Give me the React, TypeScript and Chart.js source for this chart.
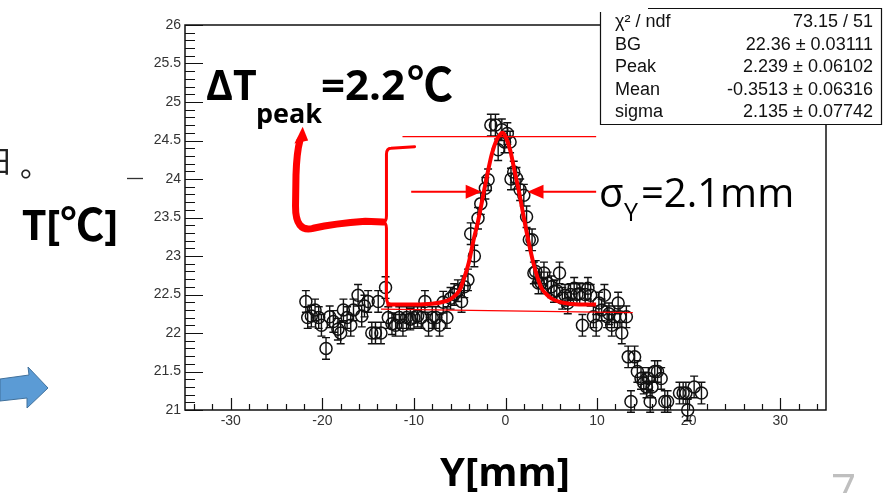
import React, { useEffect, useRef } from "react";
import { Chart, registerables } from "chart.js";
Chart.register(...registerables);

// Measured temperature profile (position in mm, temperature in °C)
const positionMm = [
  -21.8, -21.6, -21.2, -20.8, -20.4, -20.1, -19.6, -19.2, -18.8, -18.3, -18.0, -17.7, -17.3, -16.9, -16.6, -16.1,
  -15.7, -15.4, -15.0, -14.6, -14.2, -13.9, -13.6, -13.1, -12.8, -12.4, -12.0, -11.6, -11.2, -10.8, -10.4, -10.0,
  -9.6, -9.2, -8.8, -8.4, -8.0, -7.6, -7.2, -6.8, -6.4, -6.0, -5.6, -5.2, -4.8, -4.5, -4.1, -3.8,
  -3.4, -3.0, -2.7, -2.2, -1.9, -1.6, -1.1, -0.8, -0.4, -0.1, 0.2, 0.5, 0.6, 0.9, 1.2, 1.6,
  2.0, 2.3, 2.6, 2.9, 3.1, 3.3, 3.6, 3.9, 4.2, 4.6, 5.0, 5.3, 5.6, 5.9, 6.2, 6.5,
  6.8, 7.1, 7.5, 7.8, 8.1, 8.4, 8.7, 9.0, 9.3, 9.6, 9.9, 10.2, 10.5, 10.8, 11.1, 11.3,
  11.6, 11.9, 12.3, 12.5, 12.7, 13.2, 13.4, 13.7, 14.1, 14.4, 14.8, 15.1, 15.4, 15.6, 15.8, 16.0,
  16.3, 16.6, 17.0, 17.4, 17.7, 19.0, 19.4, 19.7, 19.9, 20.6, 21.4,
];
const temperatureC = [
  22.41, 22.2, 22.22, 22.3, 22.2, 22.1, 21.8, 22.21, 22.15, 22.05, 22.0, 22.3, 22.2, 22.1, 22.3, 22.49,
  22.22, 22.35, 22.41, 22.0, 22.0, 22.41, 22.0, 22.59, 22.2, 22.12, 22.1, 22.2, 22.1, 22.2, 22.18, 22.2,
  22.22, 22.2, 22.41, 22.1, 22.2, 22.2, 22.1, 22.4, 22.2, 22.45, 22.5, 22.55, 22.41, 22.6, 22.69, 23.29,
  23.0, 23.49, 23.68, 23.88, 23.99, 24.7, 24.7, 24.38, 24.64, 24.48, 24.59, 24.48, 24.0, 24.09, 24.01, 23.86,
  23.79, 23.51, 23.21, 23.21, 22.78, 22.8, 22.65, 22.65, 22.78, 22.65, 22.6, 22.54, 22.55, 22.78, 22.45, 22.49,
  22.39, 22.5, 22.58, 22.5, 22.51, 22.1, 22.5, 22.58, 22.49, 22.21, 22.1, 22.39, 22.3, 22.49, 22.21, 22.25,
  22.1, 22.21, 22.39, 22.21, 22.0, 22.21, 21.69, 21.11, 21.69, 21.5, 21.41, 21.35, 21.3, 21.41, 21.11, 21.3,
  21.5, 21.5, 21.41, 21.11, 21.11, 21.22, 21.22, 21.22, 21.0, 21.3, 21.22,
];
const errorC = 0.14;

// Fitted curve (BG + Gaussian) as drawn on the picture
const fitPositionMm = [-13, -10, -8, -7, -6, -5, -4.5, -4, -3.5, -3, -2.5, -2, -1.5, -1, -0.5, -0.3, 0, 0.5, 1, 1.5, 2, 2.5, 3, 3.5, 4, 4.5, 5, 6, 7, 8, 9.9];
const fitTemperatureC = [22.37, 22.37, 22.38, 22.4, 22.44, 22.56, 22.72, 22.92, 23.2, 23.45, 23.75, 24.05, 24.32, 24.5, 24.59, 24.6, 24.55, 24.38, 24.1, 23.82, 23.5, 23.2, 22.93, 22.72, 22.57, 22.5, 22.45, 22.4, 22.38, 22.37, 22.37];

const xTickValues = [-30, -20, -10, 0, 10, 20, 30];
const xTickLabels = ["-30", "-20", "-10", "0", "10", "20", "30"];
const yTickValues = [21, 21.5, 22, 22.5, 23, 23.5, 24, 24.5, 25, 25.5, 26];
const yTickLabels = ["21", "21.5", "22", "22.5", "23", "23.5", "24", "24.5", "25", "25.5", "26"];

const statNames = ["χ² / ndf", "BG", "Peak", "Mean", "sigma"];
const statValues = ["73.15 / 51", "22.36 ± 0.03111", "2.239 ± 0.06102", "-0.3513 ± 0.06316", "2.135 ± 0.07742"];

// Annotation guide lines (data coordinates)
const peakLineX = [-11.25, 9.9];
const peakLineT = [24.55, 24.55];
const bgLineX = [-13.6, 13.9];
const bgLineT = [22.31, 22.265];
const sigmaArrowT = 23.835;
const sigmaLeftX = [-10.3, -2.6];
const sigmaRightX = [9.9, 2.4];

const RED = "#ff0000";

function tri(ctx: CanvasRenderingContext2D, tipX: number, tipY: number, dir: number, len: number, half: number) {
  ctx.beginPath();
  ctx.moveTo(tipX, tipY);
  ctx.lineTo(tipX - dir * len, tipY - half);
  ctx.lineTo(tipX - dir * len, tipY + half);
  ctx.closePath();
  ctx.fill();
}

const slidePlugin = {
  id: "slidePlugin",
  beforeDatasetsDraw(chart: any) {
    const { ctx, chartArea: a } = chart;
    const xs = chart.scales.x;
    const ys = chart.scales.y;
    ctx.save();
    ctx.strokeStyle = "#111";
    ctx.lineWidth = 1.5;
    ctx.strokeRect(a.left, a.top, a.right - a.left, a.bottom - a.top);
    ctx.lineWidth = 1.2;
    ctx.beginPath();
    for (let k = 0; k <= 50; k++) {
      const Y = Math.round(ys.getPixelForValue(ys.min + k * 0.1)) + 0.5;
      const len = k % 5 === 0 ? 18 : 10;
      ctx.moveTo(a.left, Y);
      ctx.lineTo(a.left + len, Y);
    }
    for (let k = 0; k <= 35; k++) {
      const v = -34 + k * 2;
      if (v > 35) break;
      const X = Math.round(xs.getPixelForValue(v)) + 0.5;
      const len = v % 10 === 0 ? 12 : 6;
      ctx.moveTo(X, a.bottom);
      ctx.lineTo(X, a.bottom - len);
    }
    ctx.stroke();
    // error bars
    ctx.strokeStyle = "#111";
    ctx.lineWidth = 1.4;
    ctx.beginPath();
    positionMm.forEach((p, i) => {
      const X = xs.getPixelForValue(p);
      const t1 = ys.getPixelForValue(temperatureC[i] + errorC);
      const t2 = ys.getPixelForValue(temperatureC[i] - errorC);
      ctx.moveTo(X, t1);
      ctx.lineTo(X, t2);
      ctx.moveTo(X - 4, t1);
      ctx.lineTo(X + 4, t1);
      ctx.moveTo(X - 4, t2);
      ctx.lineTo(X + 4, t2);
    });
    ctx.stroke();
    ctx.restore();
  },
  afterDatasetsDraw(chart: any) {
    const { ctx } = chart;
    const xs = chart.scales.x;
    const ys = chart.scales.y;
    const X = (v: number) => xs.getPixelForValue(v);
    const Y = (v: number) => ys.getPixelForValue(v);
    ctx.save();
    ctx.strokeStyle = RED;
    ctx.fillStyle = RED;
    // thin guide lines
    ctx.lineWidth = 1.3;
    ctx.beginPath();
    ctx.moveTo(X(peakLineX[0]), Y(peakLineT[0]));
    ctx.lineTo(X(peakLineX[1]), Y(peakLineT[1]));
    ctx.moveTo(X(bgLineX[0]), Y(bgLineT[0]));
    ctx.lineTo(X(bgLineX[1]), Y(bgLineT[1]));
    ctx.stroke();
    // sigma arrows
    ctx.lineWidth = 2;
    const sy = Y(sigmaArrowT);
    ctx.beginPath();
    ctx.moveTo(X(sigmaLeftX[0]), sy);
    ctx.lineTo(X(sigmaLeftX[1]) - 14, sy);
    ctx.moveTo(X(sigmaRightX[0]), sy);
    ctx.lineTo(X(sigmaRightX[1]) + 14, sy);
    ctx.stroke();
    tri(ctx, X(sigmaLeftX[1]), sy, 1, 16, 7);
    tri(ctx, X(sigmaRightX[1]), sy, -1, 16, 7);
    // bracket
    ctx.lineWidth = 3;
    ctx.lineJoin = "round";
    ctx.lineCap = "round";
    ctx.beginPath();
    ctx.moveTo(X(-9.93), Y(24.42));
    ctx.lineTo(X(-12.5), Y(24.40));
    ctx.quadraticCurveTo(X(-13.0), Y(24.40), X(-13.0), Y(24.32));
    ctx.lineTo(X(-13.0), Y(23.52));
    ctx.quadraticCurveTo(X(-13.0), Y(23.45), X(-13.35), Y(23.44));
    ctx.quadraticCurveTo(X(-13.0), Y(23.43), X(-13.0), Y(23.36));
    ctx.lineTo(X(-13.0), Y(22.47));
    ctx.quadraticCurveTo(X(-13.0), Y(22.37), X(-12.5), Y(22.37));
    ctx.stroke();
    // big curved arrow
    ctx.lineWidth = 7;
    ctx.beginPath();
    ctx.moveTo(X(-13.4), Y(23.44));
    ctx.lineTo(X(-15.3), Y(23.45));
    ctx.quadraticCurveTo(X(-18.7), Y(23.42), X(-21.0), Y(23.36));
    ctx.quadraticCurveTo(X(-22.95), Y(23.3), X(-22.93), Y(23.65));
    ctx.lineTo(X(-22.88), Y(24.05));
    ctx.quadraticCurveTo(X(-22.8), Y(24.35), X(-22.45), Y(24.5));
    ctx.stroke();
    ctx.beginPath();
    ctx.moveTo(X(-22.15), Y(24.68));
    ctx.lineTo(X(-23.05), Y(24.46));
    ctx.lineTo(X(-21.55), Y(24.5));
    ctx.closePath();
    ctx.fill();
    ctx.restore();
  },
  afterDraw(chart: any) {
    const { ctx } = chart;
    ctx.save();
    // stats box
    ctx.fillStyle = "#fff";
    ctx.fillRect(600, 8, 281, 116);
    ctx.strokeStyle = "#111";
    ctx.lineWidth = 1.2;
    ctx.beginPath();
    ctx.moveTo(600.5, 12);
    ctx.lineTo(600.5, 124.5);
    ctx.lineTo(881.5, 124.5);
    ctx.lineTo(881.5, 8.5);
    ctx.lineTo(648, 8.5);
    ctx.stroke();
    ctx.fillStyle = "#111";
    ctx.font = "18px 'Liberation Sans', Arial, sans-serif";
    ctx.textBaseline = "alphabetic";
    statNames.forEach((n, i) => {
      const by = 27 + i * 22.6;
      ctx.textAlign = "left";
      ctx.fillText(n, 615, by);
      ctx.textAlign = "right";
      ctx.fillText(statValues[i], 873, by);
    });
    // slide texts
    ctx.fillStyle = "#000";
    ctx.textAlign = "left";
    ctx.font = "bold 41px 'Open Sans', 'Noto Sans CJK JP', sans-serif";
    ctx.fillText("ΔT", 206, 100);
    ctx.font = "bold 42px 'Open Sans', 'Noto Sans CJK JP', sans-serif";
    ctx.fillText("=2.2", 321, 100);
    ctx.font = "bold 46px 'Noto Sans CJK JP', sans-serif";
    ctx.fillText("℃", 407, 101);
    ctx.font = "bold 27px 'Open Sans', sans-serif";
    ctx.fillText("peak", 256, 123);
    ctx.font = "40px 'Open Sans', sans-serif";
    ctx.fillText("σ", 599, 207);
    ctx.font = "25px 'Open Sans', sans-serif";
    ctx.fillText("Y", 624, 221);
    ctx.font = "40px 'Open Sans', sans-serif";
    ctx.fillText("=2.1mm", 641, 207);
    ctx.font = "bold 42px 'Open Sans', sans-serif";
    ctx.fillText("T[", 22, 240);
    const tW = ctx.measureText("T[").width;
    ctx.font = "bold 44px 'Noto Sans CJK JP', sans-serif";
    ctx.fillText("℃", 22 + tW, 241);
    const cW = ctx.measureText("℃").width;
    ctx.font = "bold 42px 'Open Sans', sans-serif";
    ctx.fillText("]", 22 + tW + cW, 240);
    ctx.font = "bold 40px 'Open Sans', sans-serif";
    ctx.fillText("Y[mm]", 440, 486);
    ctx.fillStyle = "#bfbfbf";
    ctx.font = "44px 'Open Sans', sans-serif";
    ctx.fillText("7", 831, 505);
    // cut-off text at the left edge
    ctx.fillStyle = "#222";
    ctx.font = "30px 'Noto Sans CJK JP', sans-serif";
    ctx.fillText("日", -17, 172);
    ctx.fillText("。", 20, 176);
    ctx.strokeStyle = "#333";
    ctx.lineWidth = 1.3;
    ctx.beginPath();
    ctx.moveTo(127, 178.5);
    ctx.lineTo(143, 178.5);
    ctx.stroke();
    // blue block arrow
    ctx.fillStyle = "#5b9bd5";
    ctx.strokeStyle = "#41719c";
    ctx.lineWidth = 1;
    ctx.beginPath();
    ctx.moveTo(0, 379);
    ctx.lineTo(29, 375);
    ctx.lineTo(28, 367);
    ctx.lineTo(48, 388);
    ctx.lineTo(27, 408);
    ctx.lineTo(27, 398);
    ctx.lineTo(0, 401);
    ctx.closePath();
    ctx.fill();
    ctx.stroke();
    ctx.restore();
  },
};

export default function App() {
  const ref = useRef<HTMLCanvasElement>(null);
  useEffect(() => {
    const canvas = ref.current!;
    const tickFont = { family: "'Liberation Sans', Arial, sans-serif", size: 14 };
    const chart = new Chart(canvas, {
      type: "scatter",
      data: {
        datasets: [
          {
            type: "line",
            data: fitPositionMm.map((p, i) => ({ x: p, y: fitTemperatureC[i] })),
            borderColor: RED,
            borderWidth: 4,
            pointRadius: 0,
            cubicInterpolationMode: "monotone",
            fill: false,
            order: 0,
            clip: false,
          } as any,
          {
            data: positionMm.map((p, i) => ({ x: p, y: temperatureC[i] })),
            pointStyle: "circle",
            pointRadius: 6,
            borderColor: "#111",
            backgroundColor: "rgba(0,0,0,0)",
            borderWidth: 1.5,
            order: 1,
            clip: false,
          } as any,
        ],
      },
      options: {
        animation: false,
        responsive: false,
        maintainAspectRatio: false,
        devicePixelRatio: 1,
        layout: { padding: { top: 25, right: 61, left: 0, bottom: 0 } },
        plugins: { legend: { display: false }, tooltip: { enabled: false }, title: { display: false } },
        scales: {
          x: {
            type: "linear",
            min: -35,
            max: 35,
            afterBuildTicks: (s: any) => {
              s.ticks = xTickValues.map((v) => ({ value: v }));
            },
            afterFit: (s: any) => {
              s.height = 83;
            },
            grid: { display: false, drawTicks: false },
            border: { display: false },
            ticks: {
              padding: 3,
              font: tickFont,
              color: "#333",
              maxRotation: 0,
              autoSkip: false,
              callback: (v: any) => xTickLabels[xTickValues.indexOf(Number(v))] ?? "",
            },
          },
          y: {
            type: "linear",
            min: 21,
            max: 26,
            afterBuildTicks: (s: any) => {
              s.ticks = yTickValues.map((v) => ({ value: v }));
            },
            afterFit: (s: any) => {
              s.width = 185;
            },
            grid: { display: false, drawTicks: false },
            border: { display: false },
            ticks: {
              padding: 4,
              font: tickFont,
              color: "#333",
              autoSkip: false,
              callback: (v: any) => yTickLabels[yTickValues.indexOf(Number(v))] ?? "",
            },
          },
        },
      } as any,
      plugins: [slidePlugin],
    });
    return () => chart.destroy();
  }, []);
  return (
    <div style={{ position: "absolute", left: 0, top: 0, width: 887, height: 493, background: "#fff", overflow: "hidden" }}>
      <canvas ref={ref} width={887} height={493} style={{ display: "block", width: 887, height: 493 }} />
    </div>
  );
}
